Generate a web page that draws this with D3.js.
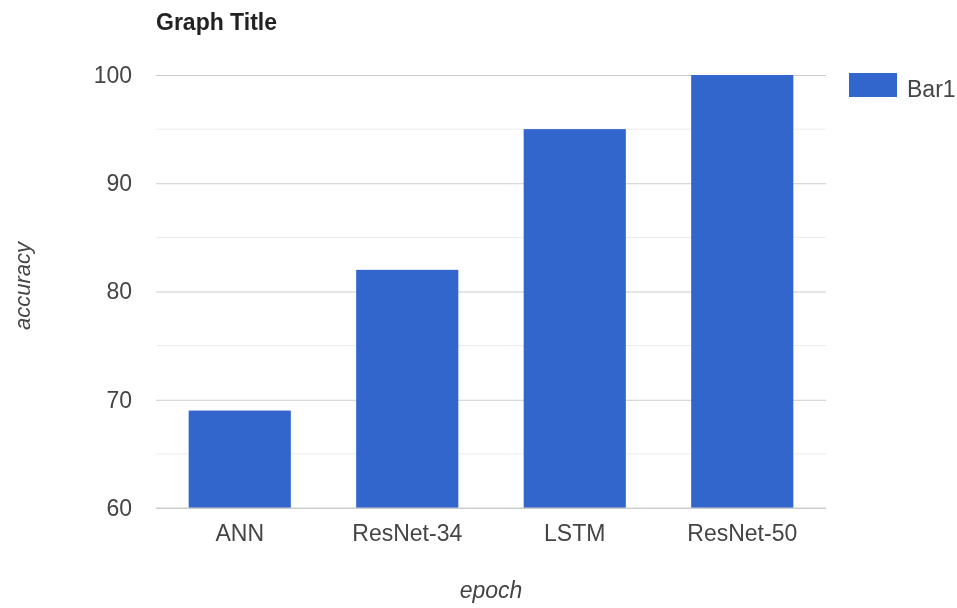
<!DOCTYPE html>
<html>
<head>
<meta charset="utf-8">
<script src="https://cdn.jsdelivr.net/npm/d3@7"></script>
<style>
  html, body { margin: 0; padding: 0; background: #fff; }
  svg { display: block; font-family: "Liberation Sans", Arial, sans-serif; }
</style>
</head>
<body>
<svg id="chart" width="957" height="608"></svg>
<script>
// Accuracy per model
const categories = ["ANN", "ResNet-34", "LSTM", "ResNet-50"];
const accuracy = [69, 82, 95, 100];
const majorTicks = [60, 70, 80, 90, 100];
const minorTicks = [65, 75, 85, 95];
const seriesName = "Bar1";
const title = "Graph Title";
const xTitle = "epoch";
const yTitle = "accuracy";

const svg = d3.select("#chart");
const margin = { left: 156, right: 131, top: 75, bottom: 100 };
const W = 957, H = 608;
const fs = 23;

// slight softening of the whole drawing
svg.append("defs").append("filter").attr("id", "soft")
  .append("feGaussianBlur").attr("stdDeviation", 0.5);
const root = svg.append("g").attr("filter", "url(#soft)");

const x = d3.scaleBand()
  .domain(categories)
  .range([margin.left, W - margin.right])
  .paddingInner(0.39)
  .paddingOuter(0.195);

const y = d3.scaleLinear()
  .domain([60, 100])
  .range([H - margin.bottom, margin.top]);

// minor gridlines
root.append("g")
  .selectAll("line")
  .data(minorTicks)
  .join("line")
  .attr("x1", margin.left).attr("x2", W - margin.right)
  .attr("y1", d => y(d)).attr("y2", d => y(d))
  .attr("stroke", "#ebebeb").attr("stroke-width", 1);

// major gridlines via axis
const yAxis = d3.axisLeft(y)
  .tickValues(majorTicks)
  .tickSize(-(W - margin.right - margin.left))
  .tickPadding(24);

const gy = root.append("g")
  .attr("transform", `translate(${margin.left},0)`)
  .call(yAxis);
gy.select(".domain").remove();
gy.selectAll(".tick line").attr("stroke", "#cccccc");
gy.selectAll(".tick text")
  .attr("fill", "#444")
  .attr("font-family", "Liberation Sans, Arial, sans-serif")
  .attr("font-size", fs);

// bars
root.append("g")
  .selectAll("rect")
  .data(categories.map((c, i) => ({ c, v: accuracy[i] })))
  .join("rect")
  .attr("x", d => x(d.c))
  .attr("width", x.bandwidth())
  .attr("y", d => y(d.v))
  .attr("height", d => y(60) - y(d.v))
  .attr("fill", "#3366cc");

// baseline
root.append("line")
  .attr("x1", margin.left).attr("x2", W - margin.right)
  .attr("y1", y(60)).attr("y2", y(60))
  .attr("stroke", "#cccccc");

// category axis
const xAxis = d3.axisBottom(x).tickSize(0).tickPadding(17);
const gx = root.append("g")
  .attr("transform", `translate(0,${y(60)})`)
  .call(xAxis);
gx.select(".domain").remove();
gx.selectAll(".tick text")
  .attr("fill", "#444")
  .attr("font-family", "Liberation Sans, Arial, sans-serif")
  .attr("font-size", fs);

// title
root.append("text")
  .attr("x", 156).attr("y", 30)
  .attr("font-size", fs).attr("font-weight", "bold")
  .attr("fill", "#222")
  .text(title);

// axis titles
root.append("text")
  .attr("x", (margin.left + W - margin.right) / 2)
  .attr("y", 598)
  .attr("text-anchor", "middle")
  .attr("font-size", fs).attr("font-style", "italic")
  .attr("fill", "#444")
  .text(xTitle);

root.append("text")
  .attr("transform", `translate(30,286) rotate(-90)`)
  .attr("text-anchor", "middle")
  .attr("font-size", 22).attr("font-style", "italic")
  .attr("fill", "#444")
  .text(yTitle);

// legend
const lg = root.append("g").attr("transform", "translate(849,73)");
lg.append("rect").attr("width", 48).attr("height", 24).attr("fill", "#3366cc");
lg.append("text")
  .attr("x", 58).attr("y", 24)
  .attr("font-size", fs).attr("fill", "#444")
  .text(seriesName);
</script>
</body>
</html>
